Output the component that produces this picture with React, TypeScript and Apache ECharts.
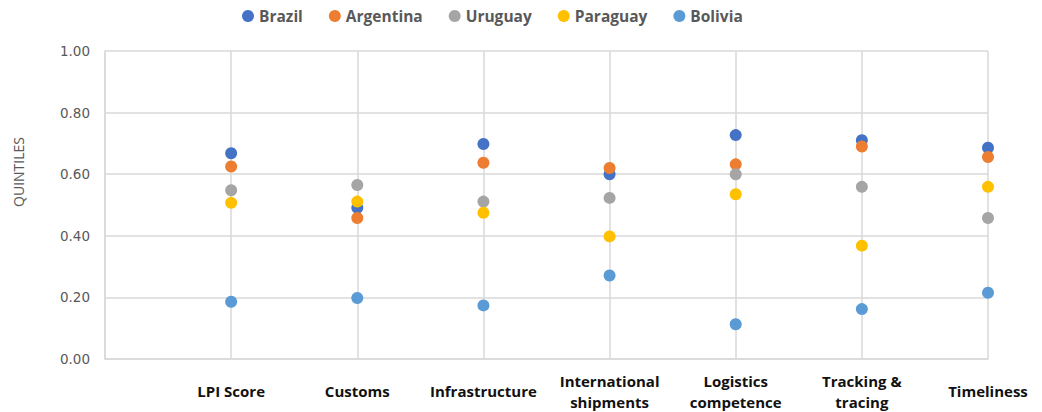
import React, { useEffect, useRef } from "react";
import * as echarts from "echarts";

const categories = [
  "",
  "LPI Score",
  "Customs",
  "Infrastructure",
  "International\nshipments",
  "Logistics\ncompetence",
  "Tracking &\ntracing",
  "Timeliness",
];

const brazil = [0.668, 0.491, 0.698, 0.6, 0.727, 0.71, 0.686];
const argentina = [0.625, 0.458, 0.637, 0.62, 0.632, 0.69, 0.656];
const uruguay = [0.548, 0.565, 0.511, 0.523, 0.6, 0.559, 0.458];
const paraguay = [0.507, 0.511, 0.475, 0.398, 0.535, 0.368, 0.559];
const bolivia = [0.186, 0.198, 0.174, 0.271, 0.113, 0.162, 0.215];

const seriesDefs = [
  { name: "Brazil", data: brazil, color: "#4472C4" },
  { name: "Argentina", data: argentina, color: "#ED7D31" },
  { name: "Uruguay", data: uruguay, color: "#A5A5A5" },
  { name: "Paraguay", data: paraguay, color: "#FFC000" },
  { name: "Bolivia", data: bolivia, color: "#5B9BD5" },
];

export default function App() {
  const ref = useRef<HTMLDivElement>(null);
  useEffect(() => {
    if (!ref.current) return;
    const chart = echarts.init(ref.current, undefined, { renderer: "svg" });
    chart.setOption({
      animation: false,
      backgroundColor: "#ffffff",
      legend: {
        top: 3,
        left: 237,
        icon: "circle",
        itemWidth: 12,
        itemHeight: 12,
        itemGap: 26,
        textStyle: {
          fontFamily: "Open Sans",
          fontWeight: "bold",
          fontSize: 15.5,
          color: "#595959",
        },
        data: seriesDefs.map((s) => s.name),
      },
      grid: { left: 105, right: 54, top: 51, bottom: 51, containLabel: false },
      xAxis: {
        type: "category",
        data: categories,
        boundaryGap: false,
        axisLine: { show: true, lineStyle: { color: "#d9d9d9", width: 1.5 } },
        axisTick: { show: false },
        splitLine: { show: true, lineStyle: { color: "#d9d9d9", width: 1.5 } },
        axisLabel: {
          interval: 0,
          margin: 32,
          verticalAlign: "middle",
          lineHeight: 21,
          fontFamily: "Open Sans",
          fontWeight: "bold",
          fontSize: 15,
          color: "#111111",
        },
      },
      yAxis: {
        type: "value",
        min: 0,
        max: 1,
        interval: 0.2,
        axisLine: { show: true, lineStyle: { color: "#d9d9d9", width: 1.5 } },
        axisTick: { show: false },
        splitLine: { show: true, lineStyle: { color: "#d9d9d9", width: 1.5 } },
        axisLabel: {
          margin: 15,
          fontFamily: "DejaVu Sans",
          fontSize: 13.5,
          color: "#595959",
          formatter: (v: number) => v.toFixed(2),
        },
      },
      graphic: [
        {
          type: "text",
          x: 18,
          y: 172,
          rotation: Math.PI / 2,
          style: {
            text: "QUINTILES",
            fontFamily: "Open Sans",
            fontSize: 14,
            fill: "#595959",
            align: "center",
            verticalAlign: "middle",
          },
        },
      ],
      series: seriesDefs.map((s) => ({
        name: s.name,
        type: "scatter",
        symbol: "circle",
        symbolSize: 12,
        itemStyle: { color: s.color, opacity: 1 },
        data: s.data.map((v, i) => [categories[i + 1], v]),
      })),
    });
    return () => chart.dispose();
  }, []);
  return (
    <div
      ref={ref}
      style={{ position: "absolute", left: 0, top: 0, width: 1042, height: 412 }}
    />
  );
}
